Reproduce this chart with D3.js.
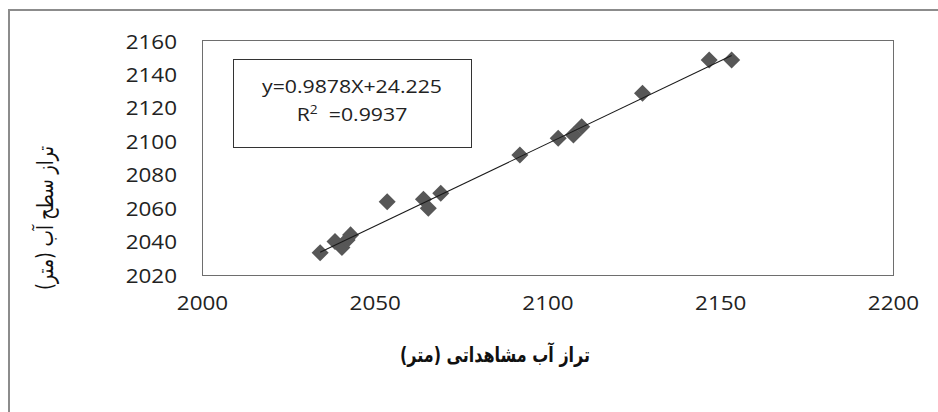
<!DOCTYPE html>
<html>
<head>
<meta charset="utf-8">
<script src="https://cdn.jsdelivr.net/npm/d3@7"></script>
<style>
  html, body { margin: 0; padding: 0; background: #fff; }
  svg { display: block; }
</style>
</head>
<body>
<svg id="chart" width="938" height="412"></svg>
<script>
// Observed vs. simulated water level (m)
const observed  = [2034.2, 2038.5, 2040.5, 2042.0, 2043.0, 2053.6, 2064.1, 2065.5, 2069.1, 2092.0, 2103.1, 2107.5, 2109.9, 2127.5, 2146.8, 2153.3];
const simulated = [2033.3, 2040.0, 2036.5, 2041.0, 2044.0, 2063.8, 2065.3, 2059.9, 2068.9, 2091.8, 2101.8, 2103.7, 2108.7, 2128.7, 2148.6, 2148.6];
const xTicks = [2000, 2050, 2100, 2150, 2200];
const yTicks = [2020, 2040, 2060, 2080, 2100, 2120, 2140, 2160];
const slope = 0.9878;
const intercept = 24.225;
const r2 = "0.9937";
const xTitle = "تراز آب مشاهداتی (متر)";
const yTitle = "تراز سطح آب (متر)";

const svg = d3.select("#chart");
const plot = { left: 202, right: 893, top: 41, bottom: 275 };
const SX = 1.15; // horizontal stretch used for the Latin text
const latinFont = "'Open Sans', sans-serif";
const arabicFont = "'DejaVu Sans', sans-serif";

// outer chart frame
svg.append("rect")
  .attr("x", 9).attr("y", 10).attr("width", 960).attr("height", 440)
  .attr("fill", "#fff").attr("stroke", "#8c8c8c").attr("stroke-width", 2);

const x = d3.scaleLinear().domain([2000, 2200]).range([plot.left, plot.right]);
const y = d3.scaleLinear().domain([2020, 2160]).range([plot.bottom, plot.top]);

// plot area border
svg.append("rect")
  .attr("x", plot.left + 0.5).attr("y", plot.top - 0.5)
  .attr("width", plot.right - plot.left).attr("height", plot.bottom - plot.top + 1)
  .attr("fill", "none").attr("stroke", "#6e6e6e").attr("stroke-width", 1);

// axes (labels only, no tick marks)
const yAxis = d3.axisLeft(y).tickValues(yTicks).tickSize(0).tickPadding(0).tickFormat(d3.format("d"));
const xAxis = d3.axisBottom(x).tickValues(xTicks).tickSize(0).tickPadding(0).tickFormat(d3.format("d"));

const gy = svg.append("g").attr("transform", `translate(${plot.left - 25},0)`).call(yAxis);
const gx = svg.append("g").attr("transform", `translate(0,${plot.bottom + 21})`).call(xAxis);
[gx, gy].forEach(g => {
  g.select(".domain").remove();
  g.selectAll("text")
    .attr("fill", "#222").attr("font-family", latinFont).attr("font-size", 19.5);
});
gy.selectAll(".tick text")
  .attr("x", 0).attr("dy", "0.36em").attr("text-anchor", "end")
  .attr("transform", `scale(${SX},1)`);
gx.selectAll(".tick text")
  .attr("dy", "0.71em").attr("text-anchor", "middle")
  .attr("transform", `scale(${SX},1)`);

// trend line endpoints over the observed range
const [xmin, xmax] = d3.extent(observed);
const trend = [[xmin, slope * xmin + intercept], [xmax, slope * xmax + intercept]];

// diamond markers
const diamond = d3.symbol().type(d3.symbolSquare).size(145);
svg.append("g").selectAll("path")
  .data(observed.map((v, i) => [v, simulated[i]]))
  .join("path")
  .attr("d", diamond)
  .attr("transform", d => `translate(${x(d[0])},${y(d[1])}) rotate(45)`)
  .attr("fill", "#575757");

// linear trend line drawn over the markers
svg.append("line")
  .attr("x1", x(trend[0][0])).attr("y1", y(trend[0][1]))
  .attr("x2", x(trend[1][0])).attr("y2", y(trend[1][1]))
  .attr("stroke", "#1a1a1a").attr("stroke-width", 1.1);

// equation box
svg.append("rect")
  .attr("x", 233.5).attr("y", 59.5).attr("width", 238).attr("height", 88)
  .attr("fill", "#fff").attr("stroke", "#333").attr("stroke-width", 1);

const eqX = 352;
svg.append("text")
  .attr("transform", `translate(${eqX},93) scale(${SX},1)`)
  .attr("text-anchor", "middle")
  .attr("font-family", latinFont).attr("font-size", 18.5).attr("fill", "#222")
  .text(`y=${slope}X+${intercept}`);

const r2Text = svg.append("text")
  .attr("transform", `translate(${eqX},121) scale(${SX},1)`)
  .attr("text-anchor", "middle")
  .attr("font-family", latinFont).attr("font-size", 18.5).attr("fill", "#222");
r2Text.append("tspan").text("R");
r2Text.append("tspan").attr("font-size", 12).attr("dy", -7).text("2");
r2Text.append("tspan").attr("dy", 7).text("\u00a0 =" + r2);

// axis titles
svg.append("text")
  .attr("transform", "translate(495,362) scale(1,1.3)")
  .attr("text-anchor", "middle").attr("direction", "rtl")
  .attr("font-family", arabicFont).attr("font-weight", "bold")
  .attr("font-size", 16).attr("fill", "#111")
  .text(xTitle);

svg.append("text")
  .attr("transform", "translate(53,218) rotate(-90) scale(1,1.3)")
  .attr("text-anchor", "middle").attr("direction", "rtl")
  .attr("font-family", arabicFont)
  .attr("font-size", 17.5).attr("fill", "#111")
  .text(yTitle);
</script>
</body>
</html>
